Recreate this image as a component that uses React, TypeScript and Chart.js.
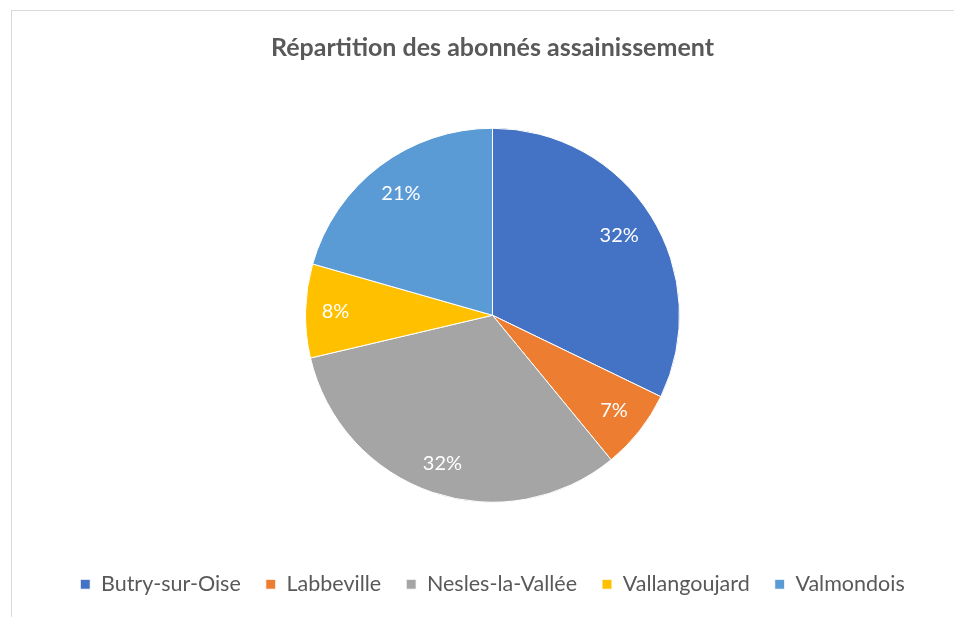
import React, { useEffect, useRef } from "react";
import { Chart, registerables } from "chart.js";

Chart.register(...registerables);

const TITLE = "Répartition des abonnés assainissement";
const categories = ["Butry-sur-Oise", "Labbeville", "Nesles-la-Vallée", "Vallangoujard", "Valmondois"];
const shares = [32.2, 6.9, 32.3, 8.1, 20.6];
const colors = ["#4472C4", "#ED7D31", "#A5A5A5", "#FFC000", "#5B9BD5"];

const FONT = "Lato, 'Open Sans', sans-serif";

const pieLabels = {
  id: "pieLabels",
  afterDatasetsDraw(chart: any) {
    const ctx = chart.ctx;
    const meta = chart.getDatasetMeta(0);
    const data = chart.data.datasets[0].data as number[];
    const total = data.reduce((a, b) => a + b, 0);
    ctx.save();
    ctx.font = `20px ${FONT}`;
    ctx.fillStyle = "#FFFFFF";
    ctx.textAlign = "center";
    ctx.textBaseline = "middle";
    meta.data.forEach((arc: any, i: number) => {
      const { x, y, startAngle, endAngle, outerRadius } = arc.getProps(
        ["x", "y", "startAngle", "endAngle", "outerRadius"],
        true
      );
      const a = (startAngle + endAngle) / 2;
      const text = Math.round((data[i] / total) * 100) + "%";
      const halfW = ctx.measureText(text).width / 2;
      const halfH = 9;
      const proj = halfW * Math.abs(Math.cos(a)) + halfH * Math.abs(Math.sin(a));
      const r = outerRadius - proj - 16;
      ctx.fillText(text, x + r * Math.cos(a), y + r * Math.sin(a));
    });
    ctx.restore();
  },
};

export default function App() {
  const ref = useRef<HTMLCanvasElement>(null);
  useEffect(() => {
    document.body.style.margin = "0";
    const chart = new Chart(ref.current!, {
      type: "pie",
      data: {
        labels: categories,
        datasets: [
          {
            data: shares,
            backgroundColor: colors,
            borderColor: "#FFFFFF",
            borderWidth: 1,
            hoverOffset: 0,
            radius: 187,
          } as any,
        ],
      },
      options: {
        animation: false,
        responsive: false,
        maintainAspectRatio: false,
        layout: { padding: { left: 40, right: 9, top: 0, bottom: 12 } },
        plugins: {
          title: {
            display: true,
            text: TITLE,
            color: "#595959",
            font: { family: FONT, size: 25, weight: "bold" },
            padding: { top: 33, bottom: 19 },
          },
          legend: {
            position: "bottom",
            labels: {
              color: "#595959",
              font: { family: FONT, size: 21.5 },
              boxWidth: 10,
              boxHeight: 10,
              padding: 25,
            },
          },
          tooltip: { enabled: false },
        },
      },
      plugins: [pieLabels],
    });
    return () => chart.destroy();
  }, []);
  return (
    <div style={{ position: "relative", width: 954, height: 617, overflow: "hidden", background: "#fff" }}>
      <canvas ref={ref} width={954} height={617} style={{ position: "absolute", left: 0, top: 0 }} />
      <div
        style={{
          position: "absolute",
          left: 11,
          top: 10,
          width: 1000,
          height: 700,
          border: "1.5px solid #D9D9D9",
          boxSizing: "border-box",
          pointerEvents: "none",
        }}
      />
    </div>
  );
}
